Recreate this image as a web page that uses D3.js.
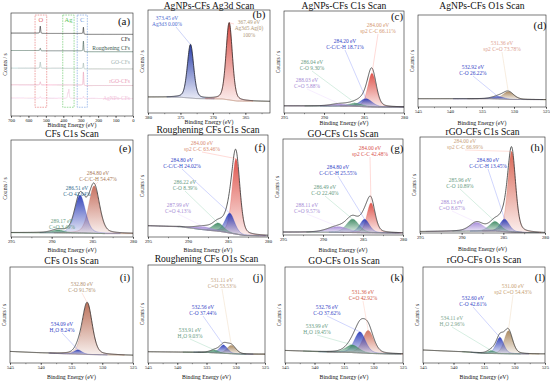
<!DOCTYPE html>
<html>
<head>
<meta charset="utf-8">
<script src="https://cdn.jsdelivr.net/npm/d3@7"></script>
<style>
body{margin:0;background:#fff}
svg text{font-family:"Liberation Serif","Times New Roman",serif}
</style>
</head>
<body>
<svg id="fig" width="550" height="385"></svg>
<script>
//--- (a) survey spectra: background points [eV, level] and peaks [eV, height, FWHM]
var surveyNames = ["CFs", "Roughening CFs", "GO-CFs", "rGO-CFs", "AgNPs-CFs"];
var surveyBkg = [
    [[700, 80.5], [540, 80.5], [530, 80.2], [290, 80.2], [280, 79.3], [0, 79.3]],
    [[700, 63.6], [540, 63.6], [530, 63.3], [290, 63.3], [280, 62.4], [0, 62.4]],
    [[700, 46.5], [290, 46.3], [280, 45.7], [0, 45.7]],
    [[700, 30.3], [290, 30.1], [280, 29.5], [0, 29.5]],
    [[700, 17.5], [370, 17.2], [0, 16.8]]
];
var surveyPeaks = [
    [[532, 7, 5], [284.5, 6.5, 4]],
    [[532, 2.5, 5], [284.5, 10, 4]],
    [[532, 6, 5], [284.5, 5.5, 4]],
    [[532, 3, 5], [284.5, 13, 4]],
    [[532, 1.5, 5], [374, 5, 5], [368, 8.7, 5], [284.5, 2, 4]]
];
var surveyRegions = [["O", 562, 495], ["Ag", 403, 338], ["C", 320, 262]];

var ticksSurvey = [700, 600, 500, 400, 300, 200, 100, 0];
var ticksAg = [380, 375, 370, 365];
var ticksC = [295, 290, 285, 280];
var ticksO = [545, 540, 535, 530, 525];

var titles = ["AgNPs-CFs Ag3d Scan", "AgNPs-CFs C1s Scan", "AgNPs-CFs O1s Scan",
    "CFs C1s Scan", "Roughening CFs C1s Scan", "GO-CFs C1s Scan", "rGO-CFs C1s Scan",
    "CFs O1s Scan", "Roughening CFs O1s Scan", "GO-CFs O1s Scan", "rGO-CFs O1s Scan"];

//--- fitted components [centre eV, height, FWHM], Shirley background [eV, level], labels
var peaksB = [[373.45, 52, 1.15], [367.49, 75, 1.15]];
var bkgB = [[380, 15.5], [375, 15.3], [372.5, 14], [368.5, 13.6], [366.3, 11.6], [361.2, 11.2]];
var textB = [["373.45 eV", "Ag3d3 0.00%"], ["367.49 eV", "Ag3d5 Ag(0)", "100%"]];

var peaksC = [[284.0, 33, 1.25], [284.75, 8, 1.8], [286.04, 3, 2.0], [288.03, 2, 2.5]];
var bkgC = [[295, 7], [287, 6.8], [284.5, 6], [283, 5.8], [280, 5.8]];
var textC = [["284.00 eV", "sp2 C-C 66.11%"], ["284.20 eV", "C-C/C-H 18.71%"], ["286.04 eV", "C-O 9.30%"], ["288.03 eV", "C=O 5.88%"]];

var peaksD = [[530.9, 8.5, 2.0], [532.5, 2.8, 2.2]];
var bkgD = [[545, 9], [534, 9], [531, 8.2], [525, 8]];
var textD = [["531.36 eV", "sp2 C=O 73.78%"], ["532.92 eV", "C-O 26.22%"]];

var peaksE = [[284.78, 49, 1.55], [286.51, 39, 1.55], [289.2, 3, 1.8]];
var bkgE = [[295, 4.5], [290, 4.3], [286, 4], [283.5, 3.5], [280, 3.5]];
var textE = [["284.80 eV", "C-C/C-H 54.47%"], ["286.51 eV", "C-O 42.04%"], ["289.17 eV", "C=O 3.49%"]];

var peaksF = [[284.0, 74, 1.15], [284.78, 19.5, 1.4], [286.22, 8, 1.6], [288.0, 3, 2.5]];
var bkgF = [[295, 11], [291, 10], [288, 7], [286, 5.5], [284.5, 3.5], [283, 1.5], [280, 1.2]];
var textF = [["284.00 eV", "sp2 C-C 63.46%"], ["284.80 eV", "C-C/C-H 24.02%"], ["286.22 eV", "C-O 8.39%"], ["287.99 eV", "C=O 4.13%"]];

var peaksG = [[284.0, 31, 1.2], [284.8, 14, 1.4], [286.3, 14, 1.8], [288.1, 6, 3.0]];
var bkgG = [[295, 3], [289, 2.8], [285, 2.4], [280, 2]];
var textG = [["284.00 eV", "sp2 C-C 42.48%"], ["284.80 eV", "C-C/C-H 25.55%"], ["286.49 eV", "C-O 22.40%"], ["288.11 eV", "C=O 9.57%"]];

var peaksH = [[284.0, 84, 1.1], [284.85, 13, 1.3], [286.0, 10, 1.6], [288.2, 9, 1.9]];
var bkgH = [[295, 1.5], [289, 2], [286, 2], [284, 1], [282, 0.3], [280, 0]];
var textH = [["284.00 eV", "sp2 C-C 66.99%"], ["284.80 eV", "C-C/C-H 13.45%"], ["285.96 eV", "C-O 10.89%"], ["288.13 eV", "C=O 8.67%"]];

var peaksI = [[532.45, 54, 1.9], [533.95, 4.5, 1.5]];
var bkgI = [[545, 12], [540, 10.5], [536, 9.6], [532, 8.8], [525, 8]];
var textI = [["532.80 eV", "C-O 91.76%"], ["534.09 eV", "H₂O 8.24%"]];

var peaksJ = [[530.75, 8.5, 1.8], [532.1, 8.5, 1.6], [533.6, 2.8, 1.7]];
var bkgJ = [[545, 11.5], [535, 10.8], [532, 9.8], [529, 9], [525, 9]];
var textJ = [["531.11 eV", "C=O 53.53%"], ["532.56 eV", "C-O 37.44%"], ["533.91 eV", "H₂O 9.03%"]];

var peaksK = [[530.9, 24, 2.2], [532.3, 22, 2.2], [533.6, 8, 2.6]];
var bkgK = [[545, 13], [538, 11.5], [534, 11], [531, 10], [528, 9.5], [525, 9.3]];
var textK = [["531.36 eV", "C=O 42.92%"], ["532.76 eV", "C-O 37.62%"], ["533.99 eV", "H₂O 19.45%"]];

var peaksL = [[531.0, 24, 1.6], [532.4, 17, 1.5], [533.8, 3, 1.5]];
var bkgL = [[545, 13.5], [538, 11.5], [535, 10], [531, 9.6], [528, 9.4], [525, 9.4]];
var textL = [["531.00 eV", "sp2 C=O 54.43%"], ["532.60 eV", "C-O 42.61%"], ["534.11 eV", "H₂O 2.96%"]];

//--- layout
var RED = "#dd4d44", BLUE = "#2c3db8", GREEN = "#3f8a64", PURPLE = "#a58ad8", TAN = "#a8865c";
var TB = "#3344c6", TG = "#669a80", TP = "#a58ad4";

var survey = {tag: "(a)", box: [11, 133, 13, 116], dom: [700, 0], ticks: ticksSurvey, xt: 125, tg: [124, 21],
    colors: ["#1a1a1a", "#3e5a50", "#9fb5b0", "#eaa0b8", "#f2c4dc"],
    labY: [39, 48, 62, 81, 98],
    regColors: ["#e26a6a", "#5cc45c", "#6f9ae0"]};

var panels = [
    {tag: "(b)", title: titles[0], box: [148, 270, 10, 113], dom: [380, 361.2], ticks: ticksAg, xt: 122, ty: 5.5, tg: [259, 14],
        peaks: peaksB, bkg: bkgB, text: textB, fill: ["#1f35a8", "#d9453c"], tc: ["#4a6ad0", "#b09878"],
        lab: [[167, 18, 176, 27], [249, 22, 234, 24]]},
    {tag: "(c)", title: titles[1], box: [284, 404, 11, 113], dom: [295, 280], ticks: ticksC, xt: 123, ty: 5.5, tg: [397, 16],
        peaks: peaksC, bkg: bkgC, text: textC, fill: [RED, BLUE, GREEN, PURPLE], tc: ["#d4966e", TB, TG, TP],
        lab: [[378, 25], [345, 41], [312, 62], [307, 80]]},
    {tag: "(d)", title: titles[2], box: [418, 546, 15, 107], dom: [545, 525], ticks: ticksO, xt: 123, ty: 5.5, tg: [540, 25],
        peaks: peaksD, bkg: bkgD, text: textD, fill: [TAN, BLUE], tc: ["#dca090", TB],
        lab: [[502, 43], [473, 67]]},
    {tag: "(e)", title: titles[3], box: [11, 133, 140, 237], dom: [295, 280], ticks: ticksC, xt: 250, ty: 134, tg: [125, 148],
        peaks: peaksE, bkg: bkgE, text: textE, fill: ["#c46a58", BLUE, GREEN], tc: ["#a87858", "#2f6a8c", TG],
        lab: [[98, 173], [77, 188], [62, 221]]},
    {tag: "(f)", title: titles[4], box: [148, 268, 135, 237], dom: [295, 280], ticks: ticksC, xt: 250, ty: 130, tg: [260, 147],
        peaks: peaksF, bkg: bkgF, text: textF, fill: [RED, BLUE, GREEN, PURPLE], tc: ["#d88a70", TB, TG, TP],
        lab: [[202, 143], [182, 160], [185, 182], [178, 205]]},
    {tag: "(g)", title: titles[5], box: [283, 403, 139, 235], dom: [295, 280], ticks: ticksC, xt: 250, ty: 134, tg: [397, 148],
        peaks: peaksG, bkg: bkgG, text: textG, fill: [RED, BLUE, GREEN, PURPLE], tc: ["#d8504a", TB, TG, TP],
        lab: [[370, 148], [338, 167], [325, 187], [307, 205]]},
    {tag: "(h)", title: titles[6], box: [420, 545, 137, 233], dom: [295, 280], ticks: ticksC, xt: 249, ty: 132, tg: [537, 147],
        peaks: peaksH, bkg: bkgH, text: textH, fill: ["#d8604e", BLUE, GREEN, PURPLE], tc: ["#c8a078", TB, TG, TP],
        lab: [[465, 141], [488, 160], [460, 180], [452, 202]]},
    {tag: "(i)", title: titles[7], box: [10, 133, 267, 363], dom: [545, 525], ticks: ticksO, xt: 377, ty: 261, tg: [125, 277],
        peaks: peaksI, bkg: bkgI, text: textI, fill: ["#b86a52", BLUE], tc: ["#b09070", TB],
        lab: [[82, 284], [62, 324]]},
    {tag: "(j)", title: titles[8], box: [148, 265, 265, 363], dom: [545, 525], ticks: ticksO, xt: 377, ty: 259, tg: [258, 277],
        peaks: peaksJ, bkg: bkgJ, text: textJ, fill: [TAN, BLUE, GREEN], tc: ["#c0a080", TB, TG],
        lab: [[222, 280], [203, 307], [190, 330]]},
    {tag: "(k)", title: titles[9], box: [285, 403, 267, 363], dom: [545, 525], ticks: ticksO, xt: 377, ty: 261, tg: [397, 277],
        peaks: peaksK, bkg: bkgK, text: textK, fill: ["#d0705c", BLUE, GREEN], tc: ["#d05a48", TB, TG],
        lab: [[363, 292], [327, 307], [317, 326]]},
    {tag: "(l)", title: titles[10], box: [423, 545, 267, 363], dom: [545, 525], ticks: ticksO, xt: 377, ty: 260, tg: [540, 277],
        peaks: peaksL, bkg: bkgL, text: textL, fill: [TAN, BLUE, GREEN], tc: ["#c8a070", TB, "#7aa48c"],
        lab: [[513, 286], [473, 298], [452, 318]]}
];

var svg = d3.select("#fig");
var defs = svg.append("defs");
var uid = 0;
var LS = 6.5; // label line spacing

// pseudo-Voigt line shape for a fitted component
function pv(e, pk){
    var t = (e - pk[0]) / pk[2];
    return pk[1] * (0.7 * Math.exp(-4 * Math.LN2 * t * t) + 0.3 / (1 + 4 * t * t));
}
function bkgScale(pts){
    return d3.scaleLinear().domain(pts.map(function(d){return d[0];})).range(pts.map(function(d){return d[1];})).clamp(true);
}
function grad(col){
    var id = "gr" + (uid++);
    var lg = defs.append("linearGradient").attr("id", id).attr("x1", 0).attr("y1", 0).attr("x2", 0).attr("y2", 1);
    lg.append("stop").attr("offset", "0%").attr("stop-color", col).attr("stop-opacity", 0.95);
    lg.append("stop").attr("offset", "100%").attr("stop-color", col).attr("stop-opacity", 0.1);
    return "url(#" + id + ")";
}

function frame(p){
    var b = p.box;
    var g = svg.append("g");
    var x = d3.scaleLinear().domain(p.dom).range([b[0], b[1]]);
    var y = d3.scaleLinear().domain([0, 100]).range([b[3], b[2]]);
    var step = Math.abs(p.ticks[1] - p.ticks[0]);
    var lo = Math.min(p.dom[0], p.dom[1]), hi = Math.max(p.dom[0], p.dom[1]);
    var minor = d3.range(Math.ceil(lo / (step / 2)) * step / 2, hi + 0.01, step / 2);
    g.append("g").attr("transform", "translate(0," + b[3] + ")")
        .call(d3.axisBottom(x).tickValues(minor).tickSize(1.2).tickFormat(""))
        .call(function(a){ a.select(".domain").remove(); a.selectAll("line").attr("stroke-width", 0.4); });
    g.append("g").attr("transform", "translate(0," + b[3] + ")")
        .call(d3.axisBottom(x).tickValues(p.ticks).tickSize(2).tickPadding(1).tickFormat(d3.format("d")))
        .call(function(a){
            a.select(".domain").remove();
            a.selectAll("line").attr("stroke-width", 0.5);
            a.selectAll("text").attr("font-size", 4.6).attr("font-family", "Liberation Serif").attr("fill", "#111");
        });
    var cid = "clip" + (uid++);
    defs.append("clipPath").attr("id", cid).append("rect")
        .attr("x", b[0]).attr("y", b[2]).attr("width", b[1] - b[0]).attr("height", b[3] - b[2]);
    var plot = g.append("g").attr("clip-path", "url(#" + cid + ")");
    g.append("rect").attr("x", b[0]).attr("y", b[2]).attr("width", b[1] - b[0]).attr("height", b[3] - b[2])
        .attr("fill", "none").attr("stroke", "#222").attr("stroke-width", 0.6);
    g.append("text").attr("x", (b[0] + b[1]) / 2).attr("y", p.xt).attr("dy", "0.35em")
        .attr("text-anchor", "middle").attr("font-size", 5.8).attr("fill", "#111").text("Binding Energy (eV)");
    g.append("text").attr("transform", "translate(" + (b[0] - 6) + "," + ((b[2] + b[3]) / 2) + ") rotate(-90)")
        .attr("dy", "0.35em").attr("text-anchor", "middle").attr("font-size", 5.6).attr("fill", "#111").text("Counts / s");
    if (p.title) {
        g.append("text").attr("x", (b[0] + b[1]) / 2).attr("y", p.ty).attr("dy", "0.35em")
            .attr("text-anchor", "middle").attr("font-size", 9.6).attr("fill", "#111").text(p.title);
    }
    g.append("text").attr("x", p.tg[0]).attr("y", p.tg[1]).attr("dy", "0.35em")
        .attr("text-anchor", "middle").attr("font-size", 11).attr("fill", "#111").text(p.tag);
    return {g: g, plot: plot, x: x, y: y};
}

function drawSurvey(p){
    var f = frame(p);
    var es = d3.range(0, 1401).map(function(i){ return 700 - i * 0.5; });
    surveyRegions.forEach(function(r, i){
        f.plot.append("rect").attr("x", f.x(r[1])).attr("y", f.y(98)).attr("width", f.x(r[2]) - f.x(r[1]))
            .attr("height", f.y(8.5) - f.y(98)).attr("fill", "none").attr("stroke", p.regColors[i])
            .attr("stroke-width", 0.6).attr("stroke-dasharray", "1.6,1");
        f.g.append("text").attr("x", f.x((r[1] + r[2]) / 2)).attr("y", 20).attr("dy", "0.35em")
            .attr("text-anchor", "middle").attr("font-size", 6.5).attr("fill", p.regColors[i]).text(r[0]);
    });
    surveyNames.forEach(function(nm, i){
        var bk = bkgScale(surveyBkg[i]);
        var line = d3.line().x(function(e){ return f.x(e); })
            .y(function(e){ return f.y(bk(e) + d3.sum(surveyPeaks[i], function(pk){ return pv(e, pk); })); });
        f.plot.append("path").datum(es).attr("d", line).attr("fill", "none")
            .attr("stroke", p.colors[i]).attr("stroke-width", 0.6);
        f.g.append("text").attr("x", 130).attr("y", p.labY[i]).attr("dy", "0.35em").attr("text-anchor", "end")
            .attr("font-size", 5.6).attr("fill", p.colors[i]).text(nm);
    });
}

function drawPanel(p){
    var f = frame(p);
    var bk = bkgScale(p.bkg);
    var n = 500;
    var es = d3.range(0, n + 1).map(function(i){ return p.dom[0] + (p.dom[1] - p.dom[0]) * i / n; });
    p.peaks.forEach(function(pk, i){
        var part = es.filter(function(e){ return Math.abs(e - pk[0]) < 3.2 * pk[2]; });
        var area = d3.area().x(function(e){ return f.x(e); })
            .y0(function(e){ return f.y(bk(e)); })
            .y1(function(e){ return f.y(bk(e) + pv(e, pk)); });
        f.plot.append("path").datum(part).attr("d", area).attr("fill", grad(p.fill[i]))
            .attr("stroke", p.fill[i]).attr("stroke-width", 0.35).attr("stroke-opacity", 0.8);
    });
    f.plot.append("path").datum(es)
        .attr("d", d3.line().x(function(e){ return f.x(e); }).y(function(e){ return f.y(bk(e)); }))
        .attr("fill", "none").attr("stroke", "#9c9474").attr("stroke-width", 0.45);
    f.plot.append("path").datum(es)
        .attr("d", d3.line().x(function(e){ return f.x(e); })
            .y(function(e){ return f.y(bk(e) + d3.sum(p.peaks, function(pk){ return pv(e, pk); })); }))
        .attr("fill", "none").attr("stroke", "#262626").attr("stroke-width", 0.75);
    p.text.forEach(function(lines, i){
        var lp = p.lab[i], pk = p.peaks[i];
        var sx = lp.length > 2 ? lp[2] : lp[0];
        var sy = lp.length > 2 ? lp[3] : lp[1] + (lines.length - 1) * LS + 2.5;
        f.g.append("line").attr("x1", sx).attr("y1", sy)
            .attr("x2", f.x(pk[0])).attr("y2", f.y(bk(pk[0]) + pk[1]))
            .attr("stroke", d3.color(p.fill[i]).brighter(0.8)).attr("stroke-opacity", 0.6).attr("stroke-width", 0.4);
        lines.forEach(function(t, j){
            f.g.append("text").attr("x", lp[0]).attr("y", lp[1] + j * LS).attr("dy", "0.35em")
                .attr("text-anchor", "middle").attr("font-size", 5.4).attr("fill", p.tc[i]).text(t);
        });
    });
}

drawSurvey(survey);
panels.forEach(drawPanel);
</script>
</body>
</html>
